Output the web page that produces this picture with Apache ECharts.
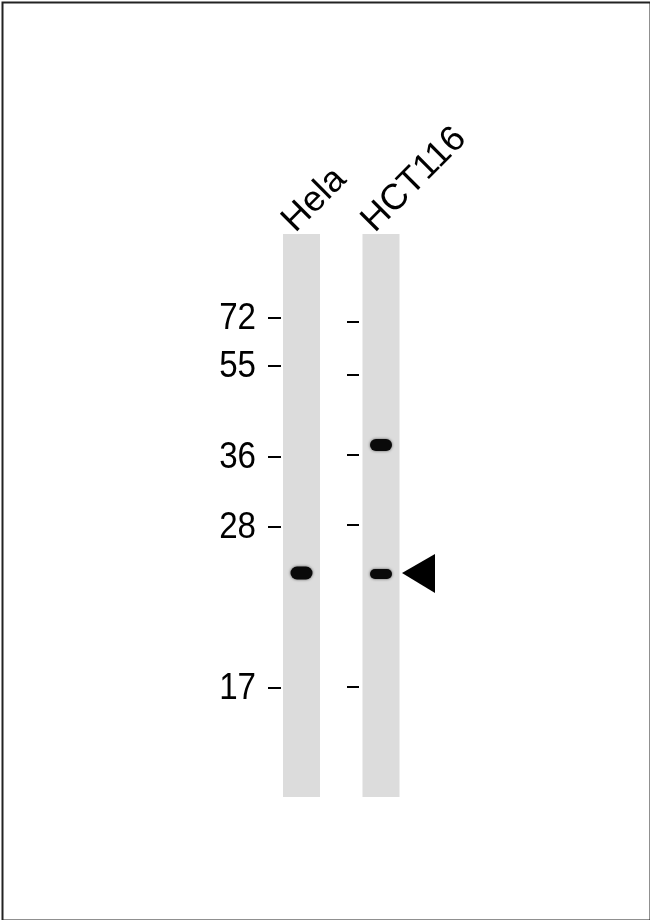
<!DOCTYPE html>
<html>
<head>
<meta charset="utf-8">
<script src="https://cdn.jsdelivr.net/npm/echarts@6/dist/echarts.min.js"></script>
<style>
html,body{margin:0;padding:0;background:#fff;}
#c{width:650px;height:920px;}
</style>
</head>
<body>
<div id="c"></div>
<script>
// ---- data (y values = migration distance from top of blot image, px units of axis) ----
var lanes = ['Hela', 'HCT116'];
var markerWeights = ['72', '55', '36', '28', '17'];
var markerPosLeft = [318, 366, 457, 527, 688];
var markerPosRight = [322, 375, 455, 525, 687];
// bands: [lane index, migration position, band thickness]
var helaBands = [[573, 13]];
var hct116Bands = [[445, 12], [574, 10]];
var arrowBandPos = 573;

// ---- layout ----
var laneCenter = [301.5, 381];
var laneHalfW = 18.5;
var laneTop = 234, laneBottom = 797;
var bandHalfW = 11;
var FONT = '"Liberation Sans", Arial, sans-serif';

var chart = echarts.init(document.getElementById('c'), null, {renderer: 'canvas'});

var bandData = [];
helaBands.forEach(function (b) { bandData.push([0, b[0], b[1]]); });
hct116Bands.forEach(function (b) { bandData.push([1, b[0], b[1]]); });

var option = {
  backgroundColor: '#ffffff',
  animation: false,
  grid: {left: 0, top: 0, width: 650, height: 920, show: false},
  xAxis: {type: 'value', min: 0, max: 650, show: false},
  yAxis: {type: 'value', min: 0, max: 920, inverse: true, show: false},
  graphic: [{
    type: 'rect', left: 0, top: 0, z: 100,
    shape: {x: 1, y: 1, width: 648, height: 918},
    style: {fill: 'none', stroke: '#222', lineWidth: 2}
  }],
  series: [
    { // lanes
      type: 'custom', z: 1,
      data: lanes.map(function (l, i) { return [i]; }),
      renderItem: function (params, api) {
        var i = api.value(0);
        var p1 = api.coord([laneCenter[i] - laneHalfW, laneTop]);
        var p2 = api.coord([laneCenter[i] + laneHalfW, laneBottom]);
        return {type: 'rect', shape: {x: p1[0], y: p1[1], width: p2[0] - p1[0], height: p2[1] - p1[1]},
                style: {fill: '#dcdcdc'}};
      }
    },
    { // lane labels
      type: 'custom', z: 3,
      data: lanes.map(function (l, i) { return [i]; }),
      renderItem: function (params, api) {
        var i = api.value(0);
        var p = api.coord([laneCenter[i] - laneHalfW + 18, laneTop + 5]);
        return {type: 'text', x: p[0], y: p[1], rotation: Math.PI / 4,
                style: {text: lanes[i], fill: '#000', font: '36px ' + FONT,
                        align: 'left', verticalAlign: 'bottom'}};
      }
    },
    { // bands
      type: 'custom', z: 4,
      data: bandData,
      renderItem: function (params, api) {
        var i = api.value(0), y = api.value(1), h = api.value(2) / 2;
        var p1 = api.coord([laneCenter[i] - bandHalfW, y - h]);
        var p2 = api.coord([laneCenter[i] + bandHalfW, y + h]);
        return {type: 'rect', shape: {x: p1[0], y: p1[1], width: p2[0] - p1[0], height: p2[1] - p1[1], r: h},
                style: {fill: '#0a0a0a', shadowBlur: 3, shadowColor: 'rgba(0,0,0,0.6)'}};
      }
    },
    { // left markers: dash + weight label
      type: 'custom', z: 3,
      data: markerPosLeft.map(function (p, i) { return [i, p]; }),
      renderItem: function (params, api) {
        var i = api.value(0), y = api.value(1);
        var a = api.coord([268, y]), b = api.coord([281, y]);
        var t = api.coord([256, y]);
        return {type: 'group', children: [
          {type: 'line', shape: {x1: a[0], y1: a[1], x2: b[0], y2: b[1]}, style: {stroke: '#000', lineWidth: 2}},
          {type: 'text', x: t[0], y: t[1] + 1, scaleX: 0.92, style: {text: markerWeights[i], fill: '#000',
            font: '36px ' + FONT, align: 'right', verticalAlign: 'middle'}}
        ]};
      }
    },
    { // right markers: dash only
      type: 'custom', z: 3,
      data: markerPosRight.map(function (p, i) { return [i, p]; }),
      renderItem: function (params, api) {
        var y = api.value(1);
        var a = api.coord([347, y]), b = api.coord([359, y]);
        return {type: 'line', shape: {x1: a[0], y1: a[1], x2: b[0], y2: b[1]}, style: {stroke: '#000', lineWidth: 2}};
      }
    },
    { // arrow
      type: 'custom', z: 3,
      data: [[1, arrowBandPos]],
      renderItem: function (params, api) {
        var y = api.value(1);
        var tip = api.coord([402, y]);
        var b1 = api.coord([435, y - 19]);
        var b2 = api.coord([435, y + 20]);
        return {type: 'polygon', shape: {points: [tip, b1, b2]}, style: {fill: '#000'}};
      }
    }
  ]
};
chart.setOption(option);
</script>
</body>
</html>
